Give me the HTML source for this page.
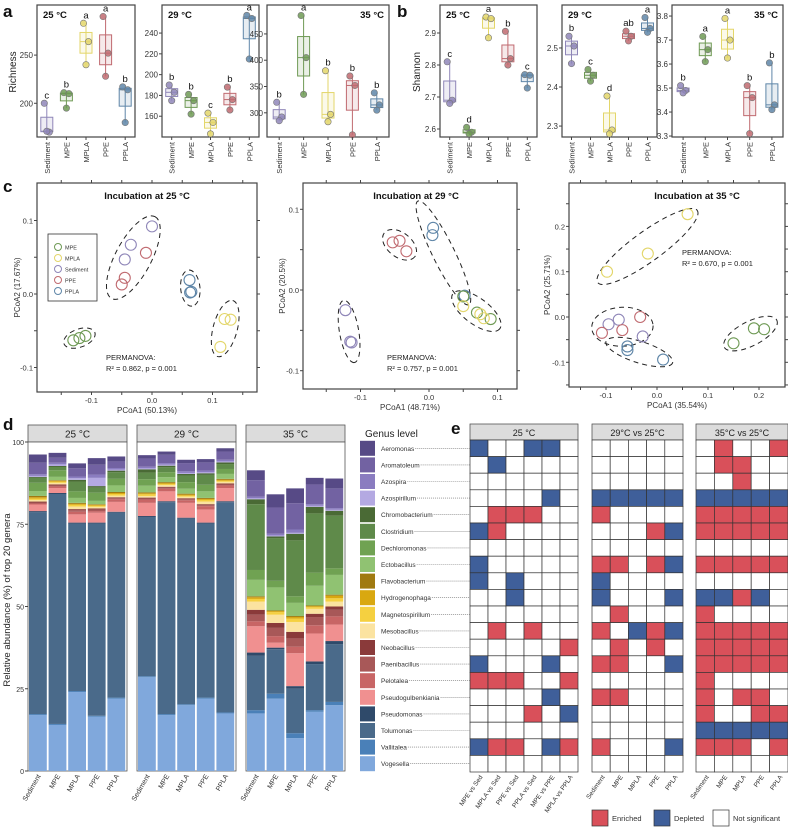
<!DOCTYPE html>
<html><head><meta charset="utf-8"><style>
html,body{margin:0;padding:0;background:#fff;}
svg{display:block;font-family:"Liberation Sans",Arial,sans-serif;}
</style></head><body>
<svg id="fig" width="788" height="828" viewBox="0 0 788 828" xmlns="http://www.w3.org/2000/svg"></svg>
<script>
// ---------- DATA ----------
const groups=['Sediment','MPE','MPLA','PPE','PPLA'];
const richness25=[[200,170,171],[211,210,195],[283,264,240],[290,252,228],[217,214,180]];
const richness29=[[190,183,175],[181,175,162],[163,154,143],[188,176,166],[257,254,215]];
const richness35=[[320,292,285],[485,405,335],[380,297,283],[370,352,258],[338,315,305]];
const richLetters25=['c','b','a','a','b'];
const richLetters29=['b','b','c','b','a'];
const richLetters35=['b','a','b','b','b'];
const shannon25=[[2.81,2.69,2.68],[2.605,2.59,2.585],[2.95,2.945,2.885],[2.905,2.82,2.80],[2.77,2.768,2.728]];
const shannon29=[[2.53,2.505,2.46],[2.445,2.43,2.415],[2.377,2.29,2.28],[2.543,2.53,2.518],[2.578,2.55,2.54]];
const shannon35=[[3.51,3.49,3.48],[3.715,3.66,3.61],[3.79,3.70,3.625],[3.51,3.46,3.31],[3.605,3.43,3.41]];
const shanLetters25=['c','d','a','b','c'];
const shanLetters29=['b','c','d','ab','a'];
const shanLetters35=['b','a','a','b','b'];
const richTicks25=[200,250], richTicks29=[160,180,200,220,240], richTicks35=[300,350,400,450];
const shanTicks25=[2.6,2.7,2.8,2.9], shanTicks29=[2.3,2.4,2.5], shanTicks35=[3.3,3.4,3.5,3.6,3.7,3.8];

const pcoaX25=[-0.13,-0.12,-0.11, 0.12,0.13,0.113, 0.0,-0.035,-0.045, -0.01,-0.045,-0.05, 0.062,0.063,0.065];
const pcoaY25=[-0.063,-0.06,-0.057, -0.034,-0.035,-0.072, 0.092,0.067,0.047, 0.056,0.022,0.013, 0.019,0.002,0.003];
const pcoaG25=[1,1,1,2,2,2,0,0,0,3,3,3,4,4,4];
const pcoaC25=[1,1,1,2,2,2,0,0,0,0,0,0,3,3,3];
const pcoaX29=[-0.122,-0.115,-0.113, -0.053,-0.043,-0.033, 0.005,0.006,0.052, 0.05,0.07,0.09, 0.05,0.075,0.08];
const pcoaY29=[-0.025,-0.064,-0.065, 0.059,0.061,0.048, 0.068,0.077,-0.007, -0.008,-0.028,-0.036, -0.02,-0.03,-0.035];
const pcoaG29=[0,0,0,3,3,3,4,4,4,1,1,1,2,2,2];
const pcoaC29=[0,0,0,1,1,1,2,2,2,3,3,3,3,3,3];
const pcoaX35=[0.06,-0.018,-0.098, 0.15,0.19,0.21, -0.095,-0.075,-0.028, -0.108,-0.068,-0.033, -0.058,-0.058,0.012];
const pcoaY35=[0.227,0.14,0.1, -0.058,-0.025,-0.027, -0.016,-0.006,-0.043, -0.035,-0.029,0.0, -0.065,-0.073,-0.094];
const pcoaG35=[2,2,2,1,1,1,0,0,0,3,3,3,4,4,4];
const pcoaC35=[0,0,0,1,1,1,2,2,2,2,2,2,3,3,3];

const barLabels=['Sediment','MPE','MPLA','PPE','PPLA'];
const genera=['Aeromonas','Aromatoleum','Azospira','Azospirillum','Chromobacterium','Clostridium','Dechloromonas','Ectobacillus','Flavobacterium','Hydrogenophaga','Magnetospirillum','Mesobacillus','Neobacillus','Paenibacillus','Pelotalea','Pseudogulbenkiania','Pseudomonas','Tolumonas','Vallitalea','Vogesella'];
const aeromonas=[2.5,1.5,1.5,2,1.5, 1,1,1,1,1, 3,4,4.5,2,3];
const aromatoleum=[3.5,1.5,2.5,3,2, 2.5,2.5,2.5,2.5,2.5, 5,8,8,6,6];
const azospira=[.5,.5,.5,1,.5, .5,.5,.5,.5,.5, .5,.5,1,.5,.5];
const azospirillum=[.3,.5,.5,2.5,.3, .3,.3,.3,.3,.3, .3,.3,.3,.3,.3];
const chromobacterium=[.3,.3,.5,.5,.5, 1,.5,.5,.5,.5, 1.5,.5,2,2,1.5];
const clostridium=[1.5,1,3,1.5,2, 2,1.5,2,3,1.5, 20,13,17,18,16];
const dechloromonas=[2.5,2,2,2.5,2, 2,1.5,2,2,1.5, 3,2,2,4,2];
const ectobacillus=[1.5,1,1.5,1,2, 2,1.5,1.5,2,1.5, 5,7,4,6,6];
const flavobacterium=[.4,.2,.3,.2,.3, .3,.3,.3,.3,.3, .3,.2,.3,.2,.3];
const hydrogenophaga=[.4,.3,.3,.3,.3, .3,.3,.3,.3,.3, .5,.3,.5,.3,.8];
const magnetospirillum=[.4,.3,.5,.3,.5, .5,.3,.3,.5,.3, .8,.8,1,.5,1];
const mesobacillus=[.5,.5,.8,.5,.5, .5,.5,.5,.8,.5, 2.5,2.5,3,1.5,1.5];
const neobacillus=[.3,.3,.3,.3,.3, .3,.3,.3,.3,.3, 1.5,1.5,2,1,1];
const paenibacillus=[.3,.3,.5,.5,.3, .3,.3,.3,.3,.3, 2,2.5,2.5,2.5,2];
const pelotalea=[.3,.5,.8,.5,.8, 1,.8,.8,1,.8, 1.5,2,2,2.5,2.5];
const pseudogulbenkiania=[2,1.5,2.5,3,3, 4,3,4.5,4,4, 8,1.5,10,8.5,5];
const pseudomonas=[.3,.3,.3,.3,.3, .3,.3,.3,.3,.3, 1,.5,.8,.8,1];
const tolumonas=[61.4,69.9,50.9,58.4,56.2, 48.4,64.4,56.4,52.9,63.9, 16.5,13.5,13.5,14,17.5];
const vallitalea=[.3,.3,.3,.3,.3, .3,.3,.3,.3,.3, 1,1.5,1.5,.5,1];
const vogesella=[17,14,24,16.5,22, 28.5,17,20,22,17.5, 17.5,22,10,18,20];
const abundance=[aeromonas,aromatoleum,azospira,azospirillum,chromobacterium,clostridium,dechloromonas,ectobacillus,flavobacterium,hydrogenophaga,magnetospirillum,mesobacillus,neobacillus,paenibacillus,pelotalea,pseudogulbenkiania,pseudomonas,tolumonas,vallitalea,vogesella];
const abTicks=[0,25,50,75,100];

const heat25=['D00DD0','0D0000','000000','0000D0','0EEE00','DE0000','000000','D00000','D0D000','00D000','000000','0E0E00','00000E','D000D0','EEE00E','0000D0','000E0D','000000','DEE0DE','000000'];
const heat29=['00000','00000','00000','DDDDD','E0000','000ED','00000','EE0ED','D0000','D000D','0E000','E0DED','0E0E0','EE00D','00000','EE000','00000','00000','E000D','00000'];
const heat35=['0E00E','0EE00','00E00','DDDDD','EEEEE','EEEEE','00000','EEEEE','00000','DDED0','E0000','EEEEE','EEEEE','EEEEE','E0000','E0EE0','E00EE','DDDDD','EEE0E','00000'];
const heatCols25=['MPE vs Sed','MPLA vs Sed','PPE vs Sed','PPLA vs Sed','MPE vs PPE','MPLA vs PPLA'];
const heatCols=['Sediment','MPE','MPLA','PPE','PPLA'];

// ---------- STYLE ----------
const gCol=['#8f86b8','#6f9a55','#e3d66a','#c06a70','#5f86a8'];
const genusCol=['#574a86','#7262a2','#8a7cc0','#b4a9e2','#4a6a35','#5f8a4a','#70a252','#90c272','#a07a10','#d9a810','#f5d040','#fbe3a0','#8a3a3a','#a85858','#c86565','#f09090','#2f4a6a','#4a6a8a','#4a80b8','#80a8dc'];
const NS='http://www.w3.org/2000/svg';
const svg=document.getElementById('fig');
function mk(tag,attrs,parent,text){const e=document.createElementNS(NS,tag);for(const k in attrs)e.setAttribute(k,attrs[k]);if(text!=null)e.textContent=text;(parent||svg).appendChild(e);return e;}

function panelLabel(t,x,y){const e=mk('text',{x:x,y:y,'font-size':17,'font-weight':'bold',fill:'#111'},svg,t);

}
panelLabel('a',3,17);panelLabel('b',397,17);panelLabel('c',3,192);panelLabel('d',3,430);panelLabel('e',451,434);

// ---------- BOX PLOTS ----------
function boxPanel(name,x0,x1,vmin,vmax,data,letters,ticks,temp,right){
  const y0=5,y1=137;
  const g=mk('g',{});
  
  
  const ys=v=>y1-(v-vmin)/(vmax-vmin)*(y1-y0);
  const fr=mk('rect',{x:x0,y:y0,width:x1-x0,height:y1-y0,fill:'#fff',stroke:'#444','stroke-width':1.2},g);
  
  
  ticks.forEach(t=>{const y=ys(t);
    mk('line',{x1:x0-3,x2:x0,y1:y,y2:y,stroke:'#444'},g);
    const tl=mk('text',{x:x0-4,y:y+3,'font-size':8,'text-anchor':'end',fill:'#333'},g,String(t));
    
    });
  const tt=mk('text',{x:right?x1-5:x0+6,y:y0+13,'font-size':9.5,'font-weight':'bold','text-anchor':right?'end':'start',fill:'#111'},g,temp);
  
  
  const off=[-2.5,2.5,0];
  data.forEach((pts,i)=>{
    const s=[...pts].sort((a,b)=>a-b);
    const mn=s[0],md=s[1],mx=s[2],q1=(mn+md)/2,q3=(md+mx)/2;
    const cx=x0+(i+0.5)*(x1-x0)/5;
    const c=gCol[i];
    mk('line',{x1:cx,x2:cx,y1:ys(mn),y2:ys(mx),stroke:c,'stroke-width':1},g);
    const b=mk('rect',{x:cx-6,y:ys(q3),width:12,height:Math.max(1,ys(q1)-ys(q3)),fill:c,'fill-opacity':0.15,stroke:c,'stroke-width':1},g);
    
    
    mk('line',{x1:cx-6,x2:cx+6,y1:ys(md),y2:ys(md),stroke:c,'stroke-width':1},g);
    pts.forEach((v,j)=>{const p=mk('circle',{cx:cx+off[j],cy:ys(v),r:3.2,fill:c,'fill-opacity':0.85,stroke:'#777','stroke-width':0.6},g);
      
      });
    const l=mk('text',{x:cx,y:ys(mx)-5,'font-size':9.5,'text-anchor':'middle',fill:'#111'},g,letters[i]);
    
    
    mk('line',{x1:cx,x2:cx,y1:y1,y2:y1+3,stroke:'#444'},g);
    const xl=mk('text',{x:0,y:0,'font-size':7.5,'text-anchor':'end',fill:'#333',transform:`translate(${cx+3},${y1+5}) rotate(-90)`},g,groups[i]);
    
    
  });
}
boxPanel('richness-25',37,135,165,302,richness25,richLetters25,richTicks25,'25 °C',false);
boxPanel('richness-29',162,259,140,267,richness29,richLetters29,richTicks29,'29 °C',false);
boxPanel('richness-35',267,389,254,505,richness35,richLetters35,richTicks35,'35 °C',true);
boxPanel('shannon-25',440,537,2.575,2.9875,shannon25,shanLetters25,shanTicks25,'25 °C',false);
boxPanel('shannon-29',562,657,2.272,2.61,shannon29,shanLetters29,shanTicks29,'29 °C',false);
boxPanel('shannon-35',672,783,3.296,3.846,shannon35,shanLetters35,shanTicks35,'35 °C',true);
{const t=mk('text',{x:0,y:0,'font-size':10,'text-anchor':'middle',fill:'#222',transform:'translate(16,72) rotate(-90)'},svg,'Richness');


const t2=mk('text',{x:0,y:0,'font-size':10,'text-anchor':'middle',fill:'#222',transform:'translate(420,72) rotate(-90)'},svg,'Shannon');

}

// ---------- PCoA ----------
function pcoaPanel(name,bx0,bx1,by0,by1,xa,xb,pa,ya,yb,pb,X,Y,G,C,xt,yt,title,tx,xTitle,yTitle,yTitleX,perm,permX,permY){
  const g=mk('g',{});
  
  
  const xs=v=>xa+(v-xb)/0.1*pa, ys=v=>ya-(v-yb)/0.1*pb;
  const fr=mk('rect',{x:bx0,y:by0,width:bx1-bx0,height:by1-by0,fill:'#fff',stroke:'#444','stroke-width':1.2},g);
  
  
  for(let v=-0.3;v<=0.3001;v+=0.05){const x=xs(v);if(x>bx0+2&&x<bx1-2){
    mk('line',{x1:x,x2:x,y1:by1,y2:by1+3,stroke:'#444'},g);mk('line',{x1:x,x2:x,y1:by0,y2:by0-3,stroke:'#444'},g);}
    const y=ys(v);if(y>by0+2&&y<by1-2){mk('line',{x1:bx0-3,x2:bx0,y1:y,y2:y,stroke:'#444'},g);mk('line',{x1:bx1,x2:bx1+3,y1:y,y2:y,stroke:'#444'},g);}}
  xt.forEach(v=>{const t=mk('text',{x:xs(v),y:by1+11,'font-size':7.5,'text-anchor':'middle',fill:'#333'},g,v.toFixed(1));
    
    });
  yt.forEach(v=>{const t=mk('text',{x:bx0-4,y:ys(v)+3,'font-size':7.5,'text-anchor':'end',fill:'#333'},g,v.toFixed(1));
    
    });
  const nC=Math.max(...C)+1;
  for(let c=0;c<nC;c++){
    const px=[],py=[];X.forEach((v,i)=>{if(C[i]===c){px.push(xs(v));py.push(ys(Y[i]));}});
    const mx=px.reduce((a,b)=>a+b)/px.length,my=py.reduce((a,b)=>a+b)/py.length;
    let sxx=0,syy=0,sxy=0;px.forEach((x,i)=>{sxx+=(x-mx)**2;syy+=(py[i]-my)**2;sxy+=(x-mx)*(py[i]-my);});
    const ang=0.5*Math.atan2(2*sxy,sxx-syy);
    let a=0,b=0;px.forEach((x,i)=>{const dx=x-mx,dy=py[i]-my;a=Math.max(a,Math.abs(dx*Math.cos(ang)+dy*Math.sin(ang)));b=Math.max(b,Math.abs(-dx*Math.sin(ang)+dy*Math.cos(ang)));});
    const e=mk('ellipse',{cx:mx,cy:my,rx:a+10,ry:b+9,fill:'none',stroke:'#222','stroke-width':1,'stroke-dasharray':'5,4',transform:`rotate(${ang*180/Math.PI},${mx},${my})`},g);
    
    
  }
  X.forEach((v,i)=>{const p=mk('circle',{cx:xs(v),cy:ys(Y[i]),r:5.5,fill:'none',stroke:gCol[G[i]],'stroke-width':1.1},g);
    
    });
  const t=mk('text',{x:tx,y:by0+16,'font-size':9.5,'font-weight':'bold','text-anchor':'middle',fill:'#111'},g,title);
  
  
  const xT=mk('text',{x:(bx0+bx1)/2,y:by1+21,'font-size':8,'text-anchor':'middle',fill:'#333'},g,xTitle);
  
  
  const yT=mk('text',{x:0,y:0,'font-size':8,'text-anchor':'middle',fill:'#333',transform:`translate(${yTitleX},${(by0+by1)/2}) rotate(-90)`},g,yTitle);
  
  
  const p1=mk('text',{x:permX,y:permY,'font-size':7.5,fill:'#222'},g,'PERMANOVA:');
  
  
  const p2=mk('text',{x:permX,y:permY+11,'font-size':7.5,fill:'#222'},g,perm);
  
  
  return g;
}
const g25=pcoaPanel('pcoa-25',37,257,183,392,152,0,60.5,294,0,73.5,pcoaX25,pcoaY25,pcoaG25,pcoaC25,[-0.1,0,0.1],[-0.1,0,0.1],'Incubation at 25 °C',147,'PCoA1 (50.13%)','PCoA2 (17.67%)',20,'R² = 0.862, p = 0.001',106,360);
pcoaPanel('pcoa-29',303,517,183,389,429,0,68.5,290,0,80.7,pcoaX29,pcoaY29,pcoaG29,pcoaC29,[-0.1,0,0.1],[-0.1,0,0.1],'Incubation at 29 °C',416,'PCoA1 (48.71%)','PCoA2 (20.5%)',285,'R² = 0.757, p = 0.001',387,360);
pcoaPanel('pcoa-35',569,785,183,387,657,0,51,317,0,45.3,pcoaX35,pcoaY35,pcoaG35,pcoaC35,[-0.1,0,0.1,0.2],[-0.1,0,0.1,0.2],'Incubation at 35 °C',697,'PCoA1 (35.54%)','PCoA2 (25.71%)',550,'R² = 0.670, p = 0.001',682,255);
{const lg=mk('g',{},g25);


mk('rect',{x:48,y:234,width:49,height:67,fill:'#fff',stroke:'#333','stroke-width':0.8},lg);
[['MPE',1],['MPLA',2],['Sediment',0],['PPE',3],['PPLA',4]].forEach(([n,gi],i)=>{
  mk('circle',{cx:58,cy:247+i*11,r:3.5,fill:'none',stroke:gCol[gi]},lg);
  const t=mk('text',{x:65,y:249.5+i*11,'font-size':5.5,fill:'#333'},lg,n);
  
  });}

// ---------- STACKED BARS ----------
const dY0=442,dY1=771;
const dys=v=>dY1-v/100*(dY1-dY0);
const dPanels=[[28,'25 °C'],[137,'29 °C'],[246,'35 °C']];
dPanels.forEach(([px,lab],p)=>{
  const g=mk('g',{});
  
  
  mk('rect',{x:px,y:425,width:99,height:17,fill:'#dcdcdc',stroke:'#555','stroke-width':0.8},g);
  const h=mk('text',{x:px+49.5,y:437.5,'font-size':10,'text-anchor':'middle',fill:'#222'},g,lab);
  
  
  mk('rect',{x:px,y:dY0,width:99,height:dY1-dY0,fill:'#fff',stroke:'#555','stroke-width':0.8},g);
  for(let b=0;b<5;b++){
    const bi=p*5+b, bx=px+1+b*19.6;
    let acc=0;
    for(let k=genera.length-1;k>=0;k--){
      const v=abundance[k][bi];
      const r=mk('rect',{x:bx,y:dys(acc+v),width:17.8,height:dys(acc)-dys(acc+v),fill:genusCol[k]},g);
      
      
      acc+=v;
    }
    const xl=mk('text',{x:0,y:0,'font-size':7,'text-anchor':'end',fill:'#333',transform:`translate(${bx+12},${dY1+5}) rotate(-60)`},g,barLabels[b]);
    
    
  }
});
abTicks.forEach(t=>{mk('line',{x1:25,x2:28,y1:dys(t),y2:dys(t),stroke:'#444'});
  const l=mk('text',{x:24,y:dys(t)+3,'font-size':7,'text-anchor':'end',fill:'#333'},svg,String(t));
  
  });
{const t=mk('text',{x:0,y:0,'font-size':9.5,'text-anchor':'middle',fill:'#222',transform:'translate(10,600) rotate(-90)'},svg,'Relative abundance (%) of top 20 genera');

}

{const t=mk('text',{x:365,y:437,'font-size':10,fill:'#222'},svg,'Genus level');

}
const hY0=440,rowH=16.6;
genera.forEach((n,k)=>{
  const cy=hY0+k*rowH+rowH/2;
  const s=mk('rect',{x:360,y:cy-7.5,width:15,height:15,fill:genusCol[k]});
  
  
  const t=mk('text',{x:381,y:cy+2.5,'font-size':6.5,fill:'#333'},svg,n);
  
  
  let w=40;try{w=t.getComputedTextLength();}catch(e){}
  mk('line',{x1:381+w+1,x2:470,y1:cy,y2:cy,stroke:'#666','stroke-width':0.6,'stroke-dasharray':'1,1'});
});

// ---------- HEATMAPS ----------
function heat(name,x0,x1,rows,cols,header){
  const g=mk('g',{});
  
  
  mk('rect',{x:x0,y:424,width:x1-x0,height:16,fill:'#dcdcdc',stroke:'#555','stroke-width':0.8},g);
  const h=mk('text',{x:(x0+x1)/2,y:436,'font-size':9,'text-anchor':'middle',fill:'#222'},g,header);
  
  
  const cw=(x1-x0)/cols.length;
  rows.forEach((r,i)=>{for(let j=0;j<cols.length;j++){
    const ch=r[j];
    const c=mk('rect',{x:x0+j*cw,y:hY0+i*rowH,width:cw,height:rowH,fill:ch==='E'?'#d9505a':ch==='D'?'#3f5f9a':'#fff',stroke:'#333','stroke-width':0.7},g);
    
    }});
  cols.forEach((n,j)=>{const t=mk('text',{x:0,y:0,'font-size':6.5,'text-anchor':'end',fill:'#333',transform:`translate(${x0+j*cw+cw/2+4},${hY0+20*rowH+5}) rotate(-55)`},g,n);
    
    });
}
heat('heatmap-25',470,578,heat25,heatCols25,'25 °C');
heat('heatmap-29-vs-25',592,683,heat29,heatCols,'29°C vs 25°C');
heat('heatmap-35-vs-25',696,788,heat35,heatCols,'35°C vs 25°C');
[['Enriched','#d9505a',592,612],['Depleted','#3f5f9a',654,674],['Not significant','#fff',713,733]].forEach(([n,c,sx,tx])=>{
  const s=mk('rect',{x:sx,y:810,width:16,height:16,fill:c,stroke:'#333','stroke-width':0.7});
  
  
  const t=mk('text',{x:tx,y:821,'font-size':7.5,fill:'#333'},svg,n);
  
  });
</script>
</body></html>
